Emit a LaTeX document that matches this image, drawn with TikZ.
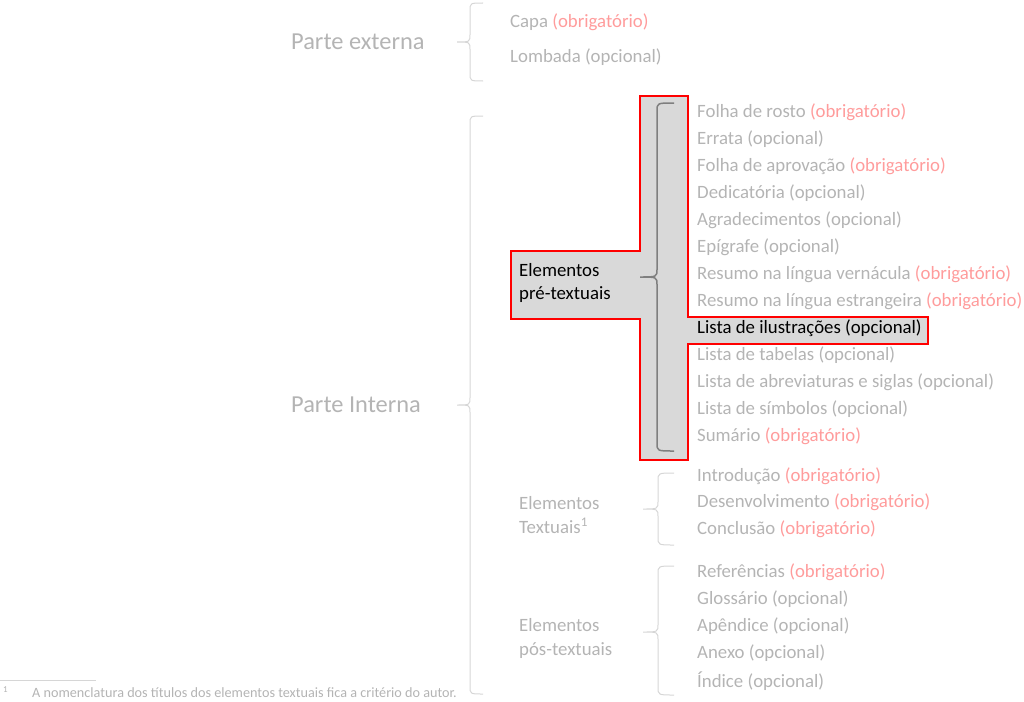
\documentclass[tikz,border=0pt]{standalone}
\usepackage{fontspec}
\setmainfont{Carlito}
\usetikzlibrary{calc}
\definecolor{txtgray}{HTML}{B4B4B4}
\definecolor{obrig}{HTML}{FF9C9C}
\definecolor{bracegray}{HTML}{D6D6D6}
\definecolor{darkbrace}{HTML}{7F7F7F}
\definecolor{hlfill}{HTML}{D9D9D9}
\tikzstyle{item}=[anchor=west, inner sep=0pt, text=txtgray, font=\fontsize{18.8}{22}\selectfont]
\tikzstyle{part}=[anchor=west, inner sep=0pt, text=txtgray, font=\fontsize{24.4}{28}\selectfont]
\tikzstyle{group}=[anchor=west, inner sep=0pt, text=txtgray, align=left, font=\fontsize{18.8}{23.5}\selectfont]
\tikzstyle{lbrace}=[draw=bracegray, line width=1pt]
\tikzstyle{hbrace}=[draw=darkbrace, line width=1.5pt]
\tikzstyle{highlight}=[fill=hlfill, draw=red, line width=1.5pt]
\newcommand{\obr}{\textcolor{obrig}{(obrigatório)}}
% style, tip x, line x, end x, top y, tip y, bottom y
\newcommand{\sbrace}[7]{
	\draw[#1] (#4,#5) .. controls (#3,#5) .. (#3,#5+8) -- (#3,#6-8)
		.. controls (#3,#6) .. (#2,#6) .. controls (#3,#6) .. (#3,#6+8)
		-- (#3,#7-8) .. controls (#3,#7) .. (#4,#7);
}

\begin{document}
\begin{tikzpicture}[x=1pt, y=-1pt]
\useasboundingbox (0,0) rectangle (1024,701);
%
	\draw[highlight] (640,96) -- (688,96) -- (688,317) -- (928,317) -- (928,344)
		-- (688,344) -- (688,460) -- (640,460) -- (640,319) -- (511,319)
		-- (511,251) -- (640,251) -- cycle;
%
	\node[part] (ext) at (291,42) {Parte externa};
	\node[part] (int) at (291,405) {Parte Interna};
	\sbrace{lbrace}{457}{470}{483}{3}{42}{81}
	\sbrace{lbrace}{457}{470}{483}{116}{405}{694}
	\node[item] (capa) at (510,22) {Capa \obr};
	\node[item] (lomb) at (510,57) {Lombada (opcional)};
%
	\node[group, text=black] (pre) at (519,283) {Elementos\\pré-textuais};
	\sbrace{hbrace}{640}{657}{674}{103}{277}{451}
	\foreach \txt [count=\i] in {Folha de rosto \obr, Errata (opcional),
		Folha de aprovação \obr, Dedicatória (opcional), Agradecimentos (opcional),
		Epígrafe (opcional), Resumo na língua vernácula \obr,
		Resumo na língua estrangeira \obr, {\color{black}Lista de ilustrações (opcional)},
		Lista de tabelas (opcional), Lista de abreviaturas e siglas (opcional),
		Lista de símbolos (opcional), Sumário \obr}
		\node[item] (pre\i) at (697,{85+27*\i}) {\txt};
%
	\node[group] (txt) at (519,515) {Elementos\\Textuais\textsuperscript{1}};
	\sbrace{lbrace}{643}{658}{674}{473}{509}{545}
	\foreach \txt [count=\i] in {Introdução \obr, Desenvolvimento \obr, Conclusão \obr}
		\node[item] (txt\i) at (697,{449.5+26.5*\i}) {\txt};
%
	\node[group] (pos) at (519,638.5) {Elementos\\pós-textuais};
	\sbrace{lbrace}{643}{658}{674}{566}{632}{695}
	\foreach \txt [count=\i] in {Referências \obr, Glossário (opcional),
		Apêndice (opcional), Anexo (opcional), Índice (opcional)}
		\node[item] (pos\i) at (697,{544.8+27.2*\i}) {\txt};
%
	\draw[bracegray, line width=.8pt] (0,680) -- (96,680);
	\node[anchor=west, inner sep=0pt, text=txtgray, font=\fontsize{9}{10}\selectfont] (fnmark) at (3,690) {1};
	\node[anchor=west, inner sep=0pt, text=txtgray, font=\fontsize{14.2}{16}\selectfont] (fn) at (32,693) {A nomenclatura dos títulos dos elementos textuais fica a critério do autor.};
\end{tikzpicture}
\end{document}
